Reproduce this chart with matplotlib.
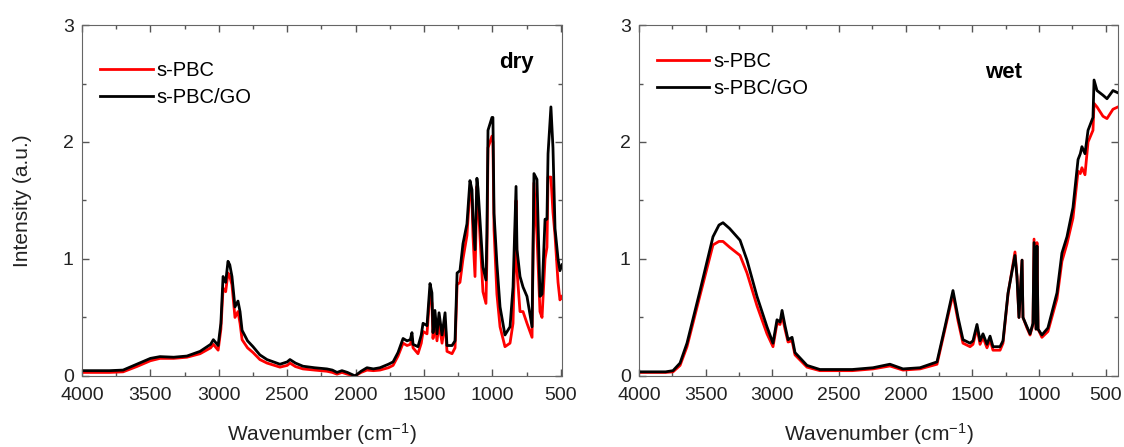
import numpy as np
import matplotlib.pyplot as plt
from matplotlib.ticker import MultipleLocator

plt.rcParams['font.family'] = ['Liberation Sans', 'DejaVu Sans']
plt.rcParams['mathtext.default'] = 'regular'

# ---- dry (left panel): wavenumber, s-PBC/GO (black), s-PBC (red) ----
wn_dry = [4000, 3800, 3700, 3600, 3500, 3430, 3330, 3233, 3137, 3060, 3040, 3005,
          2985, 2969, 2950, 2933, 2920, 2904, 2882, 2860, 2845, 2830, 2790, 2750,
          2700, 2648, 2553, 2500, 2480, 2440, 2385, 2300, 2210, 2170, 2136, 2100,
          2060, 2004, 1960, 1917, 1870, 1822, 1760, 1726, 1690, 1653, 1624, 1600,
          1588, 1580, 1544, 1520, 1507, 1478, 1456, 1442, 1434, 1420, 1405, 1390,
          1368, 1346, 1332, 1295, 1273, 1258, 1237, 1215, 1186, 1164, 1149, 1142,
          1127, 1113, 1105, 1091, 1069, 1047, 1040, 1032, 1003, 996, 988, 967,
          944, 908, 871, 849, 827, 820, 798, 776, 747, 710, 696, 674,
          652, 637, 615, 601, 593, 572, 557, 542, 520, 506, 491]
go_dry = [0.045, 0.045, 0.05, 0.10, 0.15, 0.165, 0.16, 0.17, 0.21, 0.27, 0.31, 0.26,
          0.45, 0.85, 0.80, 0.98, 0.95, 0.85, 0.59, 0.64, 0.55, 0.39, 0.30, 0.25,
          0.18, 0.14, 0.10, 0.12, 0.14, 0.11, 0.083, 0.07, 0.06, 0.05, 0.03, 0.045,
          0.03, 0.0, 0.04, 0.07, 0.06, 0.07, 0.10, 0.12, 0.20, 0.32, 0.30, 0.31,
          0.37, 0.27, 0.25, 0.35, 0.45, 0.43, 0.79, 0.71, 0.37, 0.56, 0.36, 0.54,
          0.35, 0.54, 0.26, 0.26, 0.30, 0.88, 0.90, 1.13, 1.30, 1.67, 1.59, 1.34,
          1.08, 1.69, 1.60, 1.34, 0.93, 0.82, 1.22, 2.10, 2.21, 2.21, 1.39, 0.96,
          0.59, 0.35, 0.42, 0.76, 1.62, 1.08, 0.85, 0.76, 0.68, 0.42, 1.73, 1.68,
          0.68, 0.70, 1.34, 1.34, 1.90, 2.30, 1.95, 1.26, 1.00, 0.90, 0.95]
pbc_dry = [0.03, 0.03, 0.035, 0.08, 0.13, 0.15, 0.15, 0.16, 0.19, 0.24, 0.27, 0.22,
           0.40, 0.75, 0.72, 0.88, 0.85, 0.78, 0.50, 0.55, 0.45, 0.31, 0.24, 0.20,
           0.14, 0.11, 0.075, 0.09, 0.11, 0.08, 0.06, 0.05, 0.04, 0.03, 0.015, 0.03,
           0.015, 0.0, 0.03, 0.05, 0.045, 0.05, 0.07, 0.09, 0.17, 0.28, 0.26, 0.27,
           0.32, 0.24, 0.19, 0.28, 0.38, 0.36, 0.72, 0.62, 0.32, 0.48, 0.30, 0.45,
           0.28, 0.46, 0.21, 0.19, 0.24, 0.78, 0.80, 1.00, 1.20, 1.60, 1.50, 1.20,
           0.85, 1.62, 1.50, 1.20, 0.72, 0.62, 1.00, 1.95, 2.05, 2.00, 1.25, 0.70,
           0.42, 0.25, 0.28, 0.45, 1.50, 0.90, 0.55, 0.55, 0.45, 0.33, 1.65, 1.20,
           0.55, 0.50, 1.00, 1.10, 1.70, 1.70, 1.40, 1.20, 0.80, 0.65, 0.68]

# ---- wet (right panel) ----
wn_wet = [4000, 3800, 3745, 3692, 3640, 3542, 3445, 3400, 3370, 3320, 3242, 3190,
          3115, 3040, 2995, 2965, 2942, 2927, 2905, 2882, 2852, 2830, 2740, 2643,
          2400, 2245, 2118, 2020, 1892, 1765, 1705, 1645, 1607, 1570, 1517, 1495,
          1465, 1442, 1420, 1390, 1367, 1345, 1292, 1270, 1232, 1180, 1165, 1150,
          1127, 1120, 1090, 1067, 1045, 1037, 1022, 1015, 1007, 978, 933, 865,
          828, 790, 745, 707, 690, 678, 655, 632, 595, 587, 565, 520,
          490, 445, 407]
go_wet = [0.035, 0.035, 0.045, 0.11, 0.28, 0.73, 1.19, 1.29, 1.31, 1.26, 1.16, 0.99,
          0.68, 0.42, 0.28, 0.48, 0.46, 0.56, 0.43, 0.31, 0.33, 0.20, 0.09, 0.055,
          0.055, 0.07, 0.10, 0.06, 0.07, 0.12, 0.42, 0.73, 0.50, 0.31, 0.28, 0.30,
          0.44, 0.30, 0.36, 0.27, 0.34, 0.25, 0.25, 0.30, 0.71, 1.03, 0.85, 0.50,
          0.99, 0.50, 0.42, 0.36, 0.45, 1.14, 0.40, 1.11, 0.40, 0.35, 0.41, 0.71,
          1.05, 1.19, 1.44, 1.85, 1.90, 1.96, 1.90, 2.10, 2.21, 2.53, 2.44, 2.40,
          2.37, 2.44, 2.42]
pbc_wet = [0.03, 0.03, 0.035, 0.09, 0.25, 0.69, 1.12, 1.15, 1.15, 1.10, 1.03, 0.88,
           0.60, 0.36, 0.25, 0.45, 0.44, 0.52, 0.40, 0.29, 0.30, 0.18, 0.075, 0.045,
           0.045, 0.06, 0.085, 0.05, 0.06, 0.10, 0.40, 0.70, 0.47, 0.28, 0.25, 0.27,
           0.41, 0.27, 0.33, 0.24, 0.31, 0.22, 0.22, 0.28, 0.70, 1.06, 0.85, 0.50,
           0.99, 0.50, 0.41, 0.35, 0.44, 1.17, 0.40, 1.14, 0.40, 0.33, 0.38, 0.66,
           0.98, 1.13, 1.35, 1.75, 1.73, 1.78, 1.72, 2.00, 2.10, 2.33, 2.30, 2.22,
           2.20, 2.28, 2.30]

xticks = [4000, 3500, 3000, 2500, 2000, 1500, 1000, 500]

fig = plt.figure(figsize=(11.24, 4.47), dpi=100)
ax1 = fig.add_axes([0.073, 0.159, 0.427, 0.785])
ax2 = fig.add_axes([0.5685, 0.159, 0.4262, 0.785])

panels = [(ax1, wn_dry, go_dry, pbc_dry, 491, 'dry', (0.905, 0.892), (0.0, 0.95)),
          (ax2, wn_wet, go_wet, pbc_wet, 407, 'wet', (0.76, 0.866), (0.0, 0.975))]

for ax, wn, go, pbc, xr, tag, tpos, lpos in panels:
    ax.plot(wn, pbc, color='#ff0000', lw=2, label='s-PBC')
    ax.plot(wn, go, color='black', lw=2, label='s-PBC/GO')
    ax.set_xlim(4000, xr)
    ax.set_ylim(0, 3)
    ax.set_xticks(xticks)
    ax.set_yticks([0, 1, 2, 3])
    ax.xaxis.set_minor_locator(MultipleLocator(250))
    ax.yaxis.set_minor_locator(MultipleLocator(0.5))
    ax.tick_params(which='both', direction='in', top=True, right=True,
                   labelsize=14, colors='#555555', labelcolor='#222222', width=1)
    ax.tick_params(which='major', length=5)
    ax.tick_params(which='minor', length=3)
    ax.tick_params(axis='x', which='major', pad=8)
    ax.tick_params(axis='y', which='major', pad=6)
    for s in ax.spines.values():
        s.set_color('#666666')
    ax.set_xlabel('Wavenumber (cm$^{-1}$)', fontsize=15, color='#222222', labelpad=12)
    ax.text(tpos[0], tpos[1], tag, transform=ax.transAxes, fontsize=16,
            fontweight='bold', ha='center', va='center')
    ax.legend(loc='upper left', bbox_to_anchor=lpos, frameon=False, fontsize=14.5,
              handlelength=2.6, handletextpad=0.2, labelspacing=0.4,
              borderaxespad=0.5)

ax1.set_ylabel('Intensity (a.u.)', fontsize=15, color='#222222', labelpad=22)

fig.savefig('out.png', dpi=100)
